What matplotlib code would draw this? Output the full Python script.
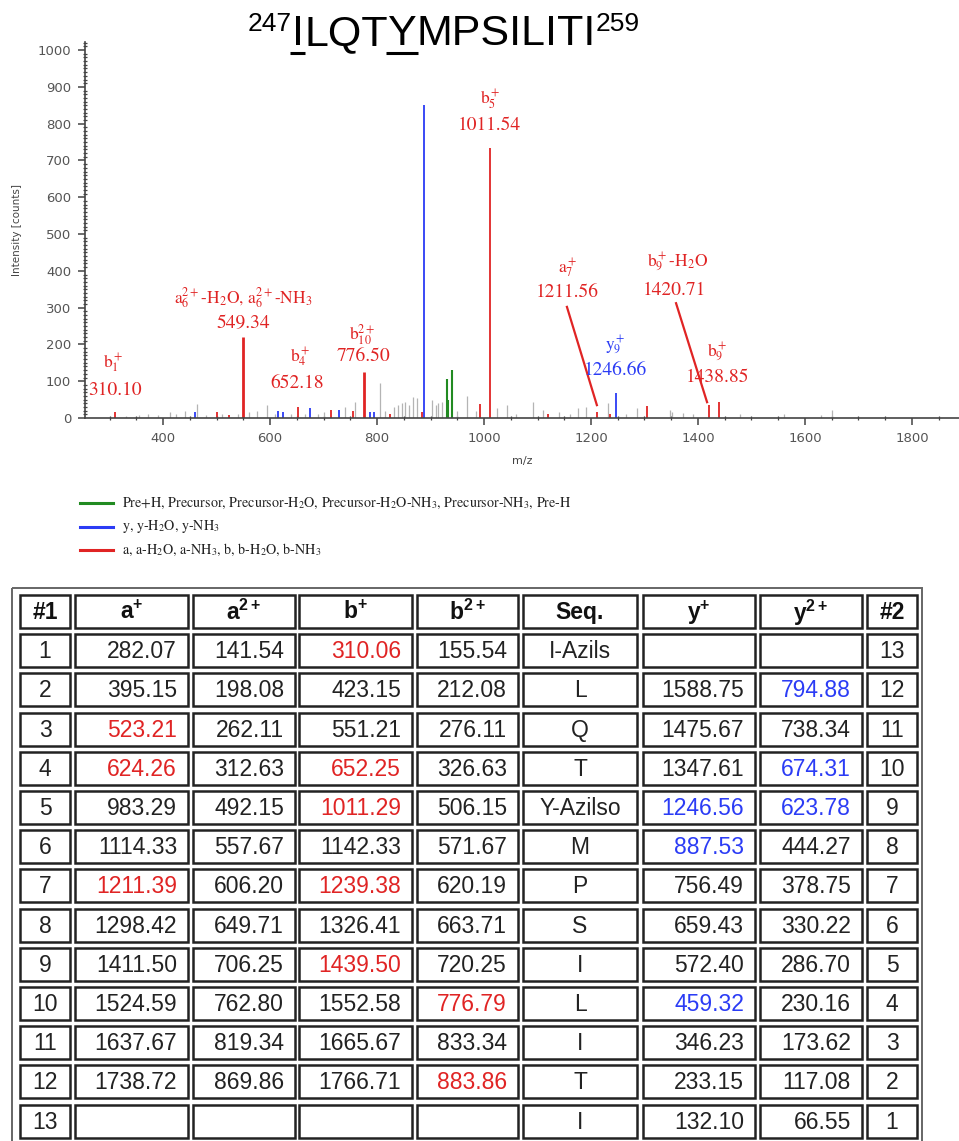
import matplotlib
matplotlib.use("Agg")
import matplotlib.pyplot as plt
from matplotlib.ticker import MultipleLocator
from matplotlib.patches import Rectangle

plt.rcParams['mathtext.fontset'] = 'custom'
plt.rcParams['mathtext.rm'] = 'Liberation Sans'
plt.rcParams['mathtext.bf'] = 'Liberation Sans:bold'

## spectrum data (m/z, intensity) ##
grayMz = [330, 355, 372, 390, 413, 425, 441, 463, 480, 510, 540, 560, 575, 594, 610, 640,
          665, 690, 700, 740, 759, 806, 815, 832, 840, 846, 852, 860, 867, 875, 903, 910,
          914, 921, 950, 968, 985, 1024, 1043, 1060, 1092, 1110, 1140, 1160, 1176, 1190,
          1232, 1265, 1286, 1348, 1351, 1372, 1390, 1479, 1560, 1630, 1651]
grayInt = [6, 8, 10, 8, 15, 10, 18, 38, 8, 10, 12, 15, 20, 35, 10, 12,
           10, 12, 15, 30, 44, 95, 20, 30, 35, 40, 43, 35, 57, 54, 50, 35,
           40, 43, 20, 60, 20, 27, 35, 10, 43, 22, 15, 12, 27, 30,
           40, 12, 27, 22, 16, 14, 12, 12, 12, 8, 22]

blueMz = [459.3, 615, 623.8, 674.3, 729, 787, 794.9, 887.5, 1246.6]
blueInt = [17, 20, 15, 27, 22, 15, 15, 850, 68]

redMz = [310.1, 500, 523.2, 652.2, 714, 755, 824, 883.9, 992, 1011.5, 1120,
         1211.6, 1236, 1305, 1420.7, 1438.9]
redInt = [16, 15, 9, 30, 22, 20, 10, 15, 38, 735, 10, 16, 10, 33, 35, 43]

# annotated peaks drawn heavier
boldMz = [549.3, 776.5]
boldInt = [220, 125]

greenMz = [930, 933, 940]
greenInt = [106, 50, 130]

## peak labels: name, value, colour, name position, value position ##
annNames = [r"b$_1^+$", r"a$_6^{2+}$-H$_2$O, a$_6^{2+}$-NH$_3$", r"b$_4^+$", r"b$_{10}^{2+}$",
            r"b$_5^+$", r"a$_7^+$", r"y$_9^+$", r"b$_9^+$-H$_2$O", r"b$_9^+$"]
annVals = ["310.10", "549.34", "652.18", "776.50", "1011.54", "1211.56", "1246.66",
           "1420.71", "1438.85"]
annBlue = [False, False, False, False, False, False, True, False, False]
annNamePos = [(306, 149), (549, 326), (656, 166), (772, 226), (1011, 864), (1157, 408),
              (1245, 198), (1361, 424), (1436, 179)]
annValPos = [(310, 76), (549, 258), (650, 95), (774, 166), (1011, 796), (1155, 340),
             (1245, 130), (1357, 348), (1436, 111)]
leaders = [((1155, 302), (1211, 35)), ((1359, 312), (1417, 43))]

legendLabels = [r"Pre+H, Precursor, Precursor-H$_2$O, Precursor-H$_2$O-NH$_3$, Precursor-NH$_3$, Pre-H",
                r"y, y-H$_2$O, y-NH$_3$",
                r"a, a-H$_2$O, a-NH$_3$, b, b-H$_2$O, b-NH$_3$"]

## fragment table ##
headers = ["#1", r"$\mathbf{a}^{\mathbf{+}}$", r"$\mathbf{a}^{\mathbf{2+}}$",
           r"$\mathbf{b}^{\mathbf{+}}$", r"$\mathbf{b}^{\mathbf{2+}}$", "Seq.",
           r"$\mathbf{y}^{\mathbf{+}}$", r"$\mathbf{y}^{\mathbf{2+}}$", "#2"]
num1 = [str(i) for i in range(1, 14)]
aPlus = ["282.07", "395.15", "523.21", "624.26", "983.29", "1114.33", "1211.39", "1298.42",
         "1411.50", "1524.59", "1637.67", "1738.72", ""]
a2Plus = ["141.54", "198.08", "262.11", "312.63", "492.15", "557.67", "606.20", "649.71",
          "706.25", "762.80", "819.34", "869.86", ""]
bPlus = ["310.06", "423.15", "551.21", "652.25", "1011.29", "1142.33", "1239.38", "1326.41",
         "1439.50", "1552.58", "1665.67", "1766.71", ""]
b2Plus = ["155.54", "212.08", "276.11", "326.63", "506.15", "571.67", "620.19", "663.71",
          "720.25", "776.79", "833.34", "883.86", ""]
seq = ["I-Azils", "L", "Q", "T", "Y-Azilso", "M", "P", "S", "I", "L", "I", "T", "I"]
yPlus = ["", "1588.75", "1475.67", "1347.61", "1246.56", "887.53", "756.49", "659.43",
         "572.40", "459.32", "346.23", "233.15", "132.10"]
y2Plus = ["", "794.88", "738.34", "674.31", "623.78", "444.27", "378.75", "330.22",
          "286.70", "230.16", "173.62", "117.08", "66.55"]
num2 = [str(i) for i in range(13, 0, -1)]
columns = [num1, aPlus, a2Plus, bPlus, b2Plus, seq, yPlus, y2Plus, num2]
# matched ions (row index, column index)
redCells = [(0, 3), (2, 1), (3, 1), (3, 3), (4, 3), (6, 1), (6, 3), (8, 3), (9, 4), (11, 4)]
blueCells = [(1, 7), (3, 7), (4, 6), (4, 7), (5, 6), (9, 6)]

RED = "#e02424"
BLUE = "#2b3cf5"
GREEN = "#228b22"
GRAY = "#b4b4b4"
W, H = 959, 1141

fig = plt.figure(figsize=(W / 100, H / 100), dpi=100)

## spectrum ##
ax = fig.add_axes([85 / W, 1 - 418 / H, 1 - 85 / W, (418 - 42) / H])
ax.patch.set_visible(False)
ax.vlines(grayMz, 0, grayInt, color=GRAY, lw=0.9)
ax.vlines(blueMz, 0, blueInt, color=BLUE, lw=1.3)
ax.vlines(redMz, 0, redInt, color=RED, lw=1.3)
ax.vlines(boldMz, 0, boldInt, color=RED, lw=2.0)
ax.vlines(greenMz, 0, greenInt, color=GREEN, lw=1.5)

for name, val, blue, p1, p2 in zip(annNames, annVals, annBlue, annNamePos, annValPos):
    col = BLUE if blue else RED
    ax.text(p1[0], p1[1], name, color=col, fontsize=12.5, family="STIXGeneral",
            math_fontfamily="stix", ha="center", va="center")
    ax.text(p2[0], p2[1], val, color=col, fontsize=14, family="STIXGeneral",
            ha="center", va="center")
for (x0, y0), (x1, y1) in leaders:
    ax.plot([x0, x1], [y0, y1], color=RED, lw=1.6)

ax.set_xlim(254, 1888)
ax.set_ylim(0, 1022)
ax.xaxis.set_major_locator(MultipleLocator(200))
ax.xaxis.set_minor_locator(MultipleLocator(50))
ax.yaxis.set_major_locator(MultipleLocator(100))
ax.yaxis.set_minor_locator(MultipleLocator(10))
for s in ["top", "right"]:
    ax.spines[s].set_visible(False)
for s in ["left", "bottom"]:
    ax.spines[s].set_color("#444")
    ax.spines[s].set_linewidth(1.2)
ax.tick_params(which="major", direction="out", length=5, width=1.1, color="#444",
               labelcolor="#555", labelsize=9.5, pad=5)
ax.tick_params(which="minor", direction="inout", length=3, width=0.9, color="#444")
ax.set_xlabel("m/z", fontsize=8, color="#444", labelpad=8)
ax.set_ylabel("Intensity [counts]", fontsize=7.5, color="#444", labelpad=11)

## overlay in pixel coordinates for title, legend and table ##
lay = fig.add_axes([0, 0, 1, 1], zorder=-1)
lay.set_xlim(0, W)
lay.set_ylim(H, 0)
lay.axis("off")

# title with superscripts and underlined residues
fig.canvas.draw()
rend = fig.canvas.get_renderer()
pieces = [("247", True, False), ("I", False, True), ("LQT", False, False),
          ("Y", False, True), ("MPSILITI", False, False), ("259", True, False)]
xpos = 248
for txt, sup, under in pieces:
    t = lay.text(xpos, 31 if sup else 45, txt, fontsize=19 if sup else 31,
                 family="Liberation Sans", ha="left", va="baseline", color="black")
    bb = t.get_window_extent(rend)
    if under:
        lay.plot([xpos - 2, xpos + bb.width + 1], [53, 53], color="black", lw=2.2,
                 solid_capstyle="butt")
    xpos += bb.width

# legend
for i, (lab, col) in enumerate(zip(legendLabels, [GREEN, BLUE, RED])):
    yy = 503 + i * 23.5
    lay.plot([80, 113], [yy, yy], color=col, lw=2.2)
    lay.text(122, yy, lab, fontsize=10.2, family="STIXGeneral", math_fontfamily="stix",
             ha="left", va="center", color="#222")

# table
colLeft = [20, 75, 193, 299, 417, 523, 643, 760, 867]
colRight = [70, 188, 295, 412, 518, 637, 755, 862, 917]
centred = [True, False, False, False, False, True, False, False, True]
top0, pitch, cellH = 595, 39.2, 33

lay.add_patch(Rectangle((12, 588), 922 - 12, 600, fill=False, ec="#666", lw=1.4))
for r in range(14):
    yt = top0 + r * pitch
    for c in range(9):
        lay.add_patch(Rectangle((colLeft[c], yt), colRight[c] - colLeft[c], cellH,
                                fill=False, ec="#222", lw=1.8))
        if r == 0:
            txt, bold, col = headers[c], True, "#111"
        else:
            txt = columns[c][r - 1]
            bold = False
            col = "#222"
            if (r - 1, c) in redCells:
                col = RED
            elif (r - 1, c) in blueCells:
                col = BLUE
        if not txt:
            continue
        if centred[c] or r == 0:
            xx, ha = (colLeft[c] + colRight[c]) / 2, "center"
        else:
            xx, ha = colRight[c] - 11, "right"
        lay.text(xx, yt + cellH / 2 + 1, txt, fontsize=16.5, family="Liberation Sans",
                 fontweight="bold" if bold else "normal", ha=ha, va="center", color=col)

fig.savefig("out.png", dpi=100)
